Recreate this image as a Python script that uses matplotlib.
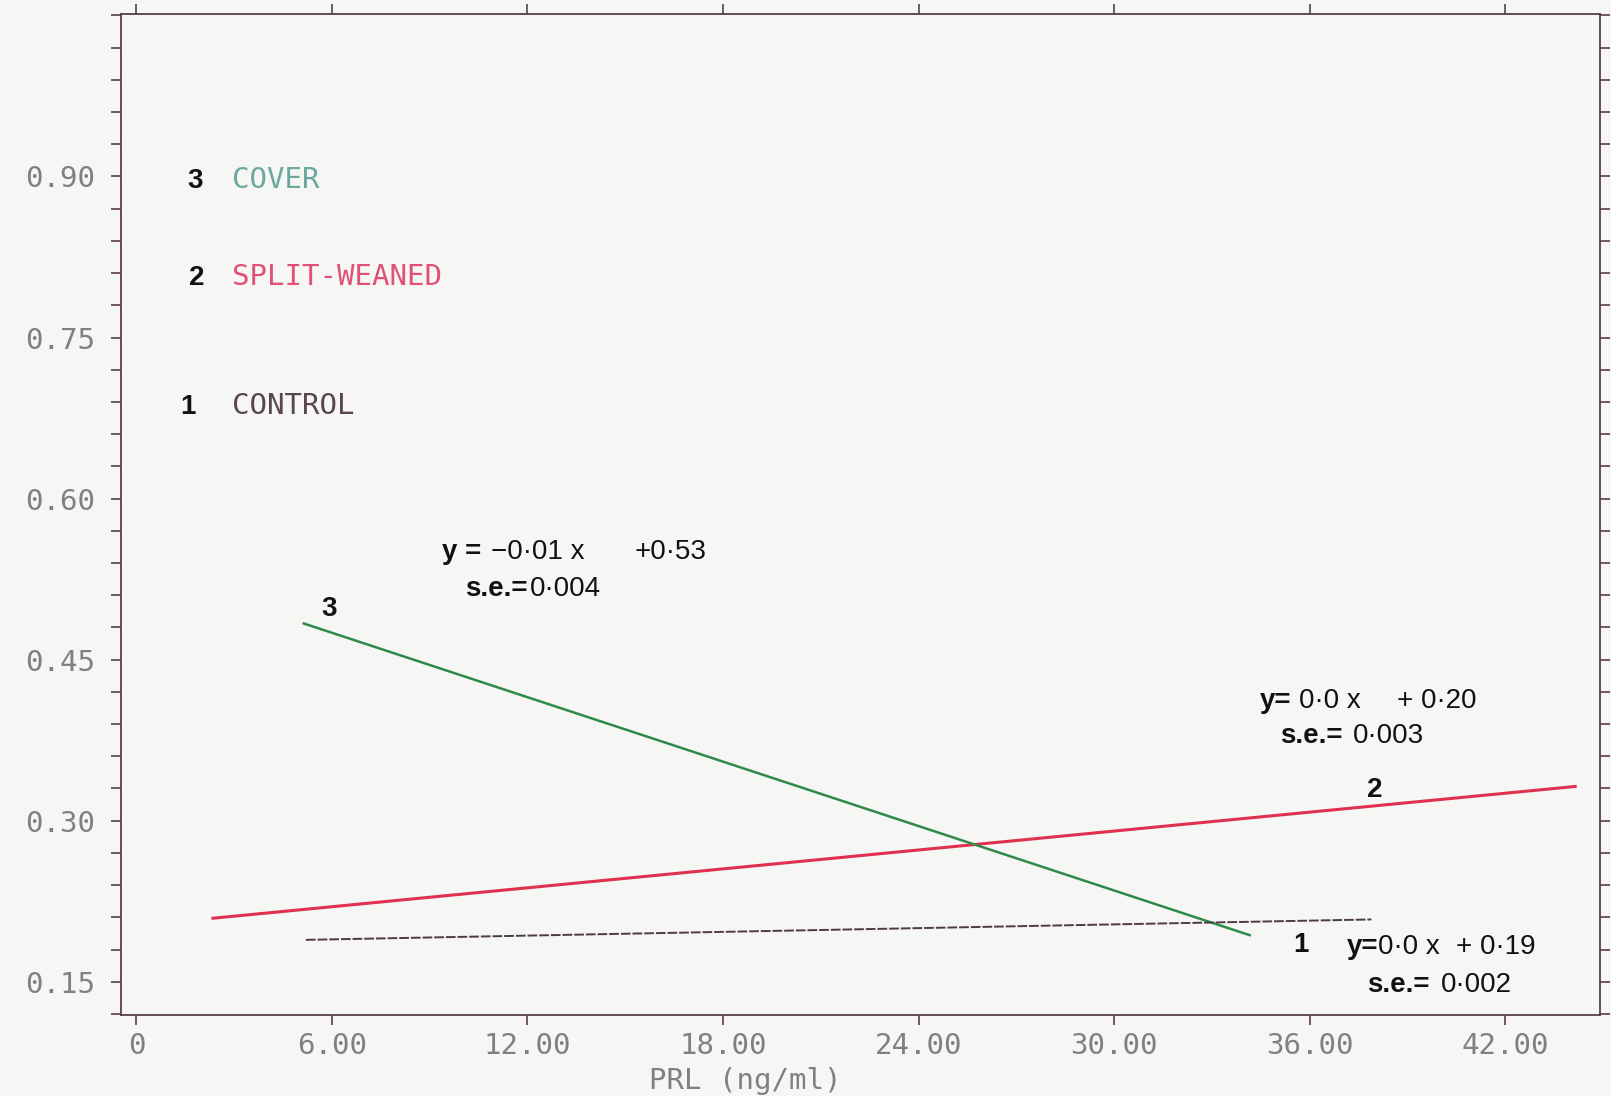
import matplotlib
matplotlib.use("Agg")
import matplotlib.pyplot as plt
from matplotlib.ticker import MultipleLocator, FixedLocator

# regression lines, end points (x = PRL ng/ml)
control_x = [5.2, 37.9]
control_y = [0.189, 0.208]
split_x = [2.3, 44.2]
split_y = [0.209, 0.332]
cover_x = [5.1, 34.2]
cover_y = [0.484, 0.193]

x_ticks = [0, 6, 12, 18, 24, 30, 36, 42]
x_ticklabels = ["0", "6.00", "12.00", "18.00", "24.00", "30.00", "36.00", "42.00"]
y_ticks = [0.15, 0.30, 0.45, 0.60, 0.75, 0.90]
y_ticklabels = ["0.15", "0.30", "0.45", "0.60", "0.75", "0.90"]

groups = ["CONTROL", "SPLIT-WEANED", "COVER"]
line_colors = ["#4e3a44", "#e0304f", "#2f8a48"]
text_colors = ["#5a4650", "#e0507a", "#6aa8a0"]

paper = "#f6f7f5"
axis_col = "#5a3e4a"
tick_col = "#808080"
mono = "DejaVu Sans Mono"
sans = "Liberation Sans"

fig = plt.figure(figsize=(16.11, 10.96), dpi=100, facecolor=paper)
ax = fig.add_axes([0.0752, 0.0739, 0.9177, 0.913], facecolor=paper)

ax.plot(split_x, split_y, color=line_colors[1], lw=2.2, solid_capstyle="butt")
ax.plot(cover_x, cover_y, color=line_colors[2], lw=1.8, solid_capstyle="butt")
ax.plot(control_x, control_y, color=line_colors[0], lw=1.4, ls=(0, (5, 1)))

ax.set_xlim(-0.47, 44.9)
ax.set_ylim(0.119, 1.051)

ax.xaxis.set_major_locator(FixedLocator(x_ticks))
ax.set_xticklabels(x_ticklabels)
ax.yaxis.set_major_locator(FixedLocator(y_ticks))
ax.set_yticklabels(y_ticklabels)
ax.yaxis.set_minor_locator(MultipleLocator(0.03))

ax.tick_params(axis="both", which="both", direction="out", length=7,
               width=1.2, color=axis_col, top=True, right=True,
               labeltop=False, labelright=False, labelcolor=tick_col,
               labelsize=21)
ax.tick_params(axis="y", pad=12)
ax.tick_params(axis="x", pad=5)
for lab in ax.get_xticklabels() + ax.get_yticklabels():
    lab.set_family(mono)

for s in ax.spines.values():
    s.set_color(axis_col)
    s.set_linewidth(1.3)

ax.set_xlabel("PRL (ng/ml)", family=mono, fontsize=21, color=tick_col, labelpad=5)
ax.xaxis.label.set_x(0.422)

# key in upper left
key_y = [0.679, 0.799, 0.889]
key_nx = [1.58, 1.86, 1.80]
for i in range(3):
    ax.text(key_nx[i], key_y[i], str(i + 1), family=sans, weight="bold",
            fontsize=20, color="#111111", ha="center", va="baseline")
    ax.text(2.92, key_y[i], groups[i], family=mono, fontsize=21,
            color=text_colors[i], ha="left", va="baseline")

# line numbers
ax.text(5.9, 0.491, "3", family=sans, weight="bold", fontsize=20,
        color="#111111", ha="center", va="baseline")
ax.text(38.0, 0.322, "2", family=sans, weight="bold", fontsize=20,
        color="#111111", ha="center", va="baseline")
ax.text(35.73, 0.178, "1", family=sans, weight="bold", fontsize=20,
        color="#111111", ha="center", va="baseline")


def piece(x, y, s, bold=False):
    ax.text(x, y, s, family=sans, weight="bold" if bold else "normal",
            fontsize=20, color="#111111", ha="left", va="baseline")


# equation for cover
piece(9.37, 0.544, "y =", True)
piece(10.89, 0.544, "\u22120\u00b701 x")
piece(15.28, 0.544, "+0\u00b753")
piece(10.07, 0.509, "s.e.=", True)
piece(12.06, 0.509, "0\u00b7004")

# equation for split-weaned
piece(34.47, 0.405, "y=", True)
piece(35.67, 0.405, "0\u00b70 x")
piece(38.67, 0.405, "+ 0\u00b720")
piece(35.10, 0.372, "s.e.=", True)
piece(37.34, 0.372, "0\u00b7003")

# equation for control
piece(37.15, 0.176, "y=", True)
piece(38.1, 0.176, "0\u00b70 x")
piece(40.5, 0.176, "+ 0\u00b719")
piece(37.78, 0.140, "s.e.=", True)
piece(40.03, 0.140, "0\u00b7002")

fig.savefig("out.png", dpi=100, facecolor=paper)
